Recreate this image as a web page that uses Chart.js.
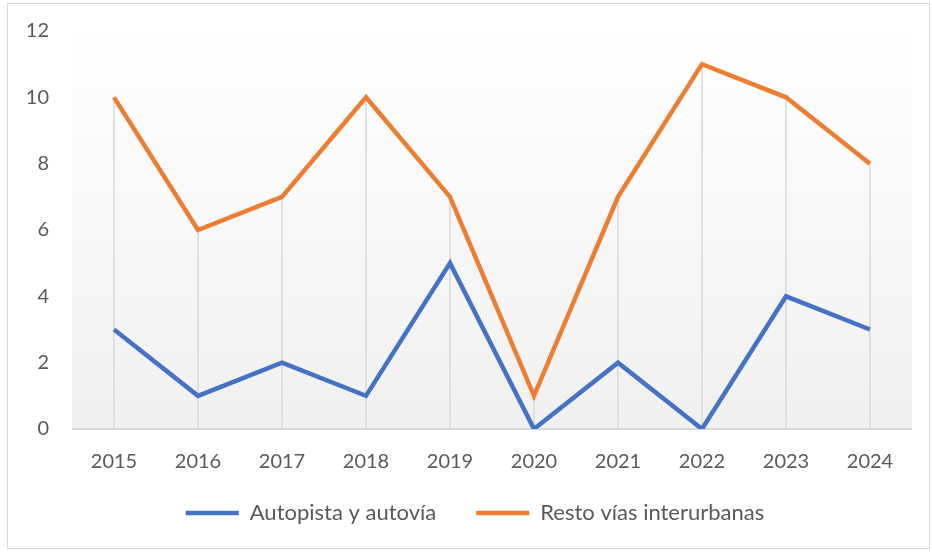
<!DOCTYPE html>
<html>
<head>
<meta charset="utf-8">
<script src="https://cdn.jsdelivr.net/npm/chart.js@4"></script>
<style>
  body { margin: 0; background: #fff; }
  #wrap { position: absolute; left: 7px; top: 3px; width: 921px; height: 544px; border: 1px solid #d9d9d9; }
</style>
</head>
<body>
<div id="wrap"><canvas id="roadChart" width="921" height="544"></canvas></div>
<script>
const years = ['2015', '2016', '2017', '2018', '2019', '2020', '2021', '2022', '2023', '2024'];
const autopista = [3, 1, 2, 1, 5, 0, 2, 0, 4, 3];
const restoVias = [10, 6, 7, 10, 7, 1, 7, 11, 10, 8];
const yTicks = [0, 2, 4, 6, 8, 10, 12];

// fondo degradado del área de trazado + líneas de caída
const plotBg = {
    id: 'plotBg',
    afterLayout(chart) {
        // leyenda un poco más arriba y a la derecha, como en Excel
        const lg = chart.legend;
        lg.top -= 12; lg.bottom -= 12;
        lg.left += 15; lg.right += 15;
    },
    beforeDatasetsDraw(chart) {
        const { ctx, chartArea: a, scales } = chart;
        const g = ctx.createLinearGradient(0, a.top, 0, a.bottom);
        g.addColorStop(0, '#ffffff');
        g.addColorStop(1, '#f0f0f0');
        ctx.save();
        ctx.fillStyle = g;
        ctx.fillRect(a.left, a.top, a.right - a.left, a.bottom - a.top);
        ctx.strokeStyle = '#d9d9d9';
        ctx.lineWidth = 1.5;
        years.forEach((y, i) => {
            const x = scales.x.getPixelForValue(i);
            const top = scales.y.getPixelForValue(Math.max(autopista[i], restoVias[i]));
            ctx.beginPath();
            ctx.moveTo(x, top);
            ctx.lineTo(x, a.bottom);
            ctx.stroke();
        });
        ctx.lineWidth = 2;
        ctx.beginPath();
        ctx.moveTo(a.left, a.bottom);
        ctx.lineTo(a.right, a.bottom);
        ctx.stroke();
        ctx.restore();
    }
};

const ctx = document.getElementById('roadChart').getContext('2d');
const roadChart = new Chart(ctx, {
    type: 'line',
    data: {
        labels: years,
        datasets: [
            {
                label: 'Autopista y autovía',
                data: autopista,
                borderColor: '#4472c4',
                backgroundColor: '#4472c4',
                borderWidth: 4.5,
                pointRadius: 0,
                pointStyle: 'line',
                tension: 0,
                fill: false
            },
            {
                label: 'Resto vías interurbanas',
                data: restoVias,
                borderColor: '#ed7d31',
                backgroundColor: '#ed7d31',
                borderWidth: 4.5,
                pointRadius: 0,
                pointStyle: 'line',
                tension: 0,
                fill: false
            }
        ]
    },
    options: {
        responsive: false,
        animation: false,
        layout: { padding: { left: 0, right: 17, top: 27, bottom: 2 } },
        scales: {
            x: {
                offset: true,
                afterFit: axis => { axis.height = 45; },
                grid: { display: false, drawTicks: false },
                border: { display: false },
                ticks: { color: '#595959', font: { family: 'Lato', size: 20 }, padding: 21, maxRotation: 0 }
            },
            y: {
                min: 0,
                max: 12,
                afterBuildTicks: axis => { axis.ticks = yTicks.map(v => ({ value: v })); },
                afterFit: axis => { axis.width = 64; axis.paddingTop = 0; axis.paddingBottom = 0; },
                grid: { display: false, drawTicks: false },
                border: { display: false },
                ticks: { color: '#595959', font: { family: 'Lato', size: 20 }, padding: 23 }
            }
        },
        plugins: {
            legend: {
                position: 'bottom',
                labels: {
                    usePointStyle: true,
                    pointStyleWidth: 53,
                    color: '#595959',
                    font: { family: 'Lato', size: 22 },
                    padding: 40
                }
            },
            tooltip: { enabled: false }
        }
    },
    plugins: [plotBg]
});
</script>
</body>
</html>
